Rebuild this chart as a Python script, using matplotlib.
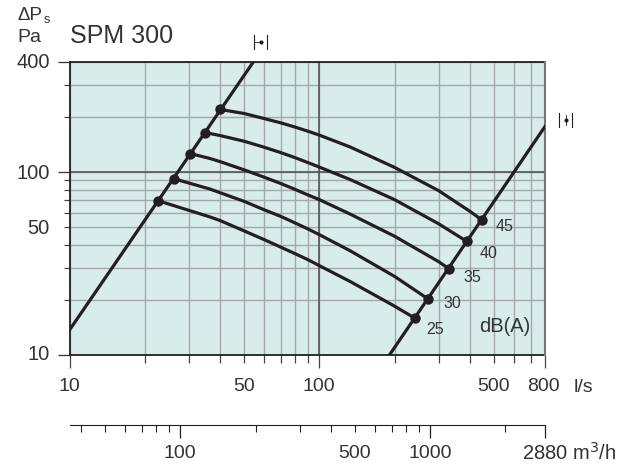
import matplotlib
matplotlib.use("Agg")
import matplotlib.pyplot as plt
from matplotlib.lines import Line2D

plt.rcParams['font.family'] = ['Liberation Sans', 'DejaVu Sans']

# l/s and Pa
fan_left_x = [10, 54.4]
fan_left_y = [13.7, 400]
fan_right_x = [190.8, 800]
fan_right_y = [10, 177.6]

curve_45_x = [40.1, 50, 60, 70, 80, 90, 100, 133, 200, 300, 400, 445.8]
curve_45_y = [220, 209.2, 196.4, 186, 176.2, 167.4, 159.3, 137.1, 106.1, 79.2, 61.1, 54.9]
curve_40_x = [34.9, 40, 50, 60, 70, 80, 90, 100, 133, 200, 300, 389]
curve_40_y = [164.6, 158.5, 147.5, 136.9, 127.9, 119.9, 112.7, 106.5, 91, 70.7, 52.2, 41.8]
curve_35_x = [30.4, 36.6, 40, 50, 60, 70, 80, 90, 100, 133, 200, 300, 329]
curve_35_y = [126.3, 118.6, 114.2, 102.9, 93.9, 86.7, 80.4, 75, 70.7, 58.9, 44.6, 32.4, 29.7]
curve_30_x = [26.1, 36.6, 40, 50, 60, 70, 80, 90, 100, 133, 200, 271.6]
curve_30_y = [92.1, 80.7, 77.2, 69.2, 62.3, 57.3, 52.7, 48.9, 45.5, 37.1, 26.9, 20.3]
curve_25_x = [22.6, 36.6, 40, 50, 60, 70, 80, 90, 100, 133, 200, 241]
curve_25_y = [69.8, 56.8, 54.4, 47.7, 42.8, 38.9, 35.8, 33.2, 30.8, 25.2, 18.5, 15.9]

x_major = [10, 100, 800]
x_minor = [20, 30, 40, 50, 60, 70, 80, 90, 200, 300, 400, 500, 600, 700]
y_major = [10, 100, 400]
y_minor = [20, 30, 40, 50, 60, 70, 80, 90, 200, 300]
m3h_major = [100, 1000, 2880]
m3h_minor = [40, 50, 60, 70, 80, 90, 200, 300, 400, 500, 600, 700, 800, 900, 2000]

dark = '#231f20'
W, H = 636, 466

fig = plt.figure(figsize=(W / 100, H / 100), dpi=100)
ax = fig.add_axes([69.5 / W, 1 - 355 / H, 475.5 / W, 293 / H])
ax.set_facecolor('#d8ecea')
ax.set_xscale('log')
ax.set_yscale('log')
ax.set_xlim(10, 800)
ax.set_ylim(10, 400)

ax.set_xticks(x_major)
ax.set_xticks(x_minor, minor=True)
ax.set_yticks(y_major)
ax.set_yticks(y_minor, minor=True)
ax.set_xticklabels([])
ax.set_xticklabels([], minor=True)
ax.set_yticklabels([])
ax.set_yticklabels([], minor=True)
ax.grid(True, which='both', color='#a3a8a8', lw=1.0)
ax.set_axisbelow(True)
ax.tick_params(axis='x', which='major', length=9.4, width=0.9, color='#444444')
ax.tick_params(axis='x', which='minor', length=5.8, width=0.9, color='#444444')
ax.tick_params(axis='y', which='major', length=8.6, width=0.9, color='#333333')
ax.tick_params(axis='y', which='minor', length=4.5, width=0.9, color='#444444')

# the 100 lines are darker
ax.axvline(100, color='#555555', lw=1.2, zorder=1)
ax.axhline(100, color='#555555', lw=1.2, zorder=1)

for s in ['top', 'right']:
    ax.spines[s].set_visible(False)
ax.spines['left'].set_color(dark)
ax.spines['left'].set_linewidth(1.3)
ax.spines['bottom'].set_color(dark)
ax.spines['bottom'].set_linewidth(1.3)
ax.plot([10, 800], [400, 400], color=dark, lw=1.3, clip_on=False, zorder=3)
ax.plot([800, 800], [10, 400], color='#777777', lw=1.5, clip_on=False, zorder=3)

ax.plot(fan_left_x, fan_left_y, color=dark, lw=2.3, zorder=4)
ax.plot(fan_right_x, fan_right_y, color=dark, lw=2.3, zorder=4)

curves = [(curve_45_x, curve_45_y), (curve_40_x, curve_40_y), (curve_35_x, curve_35_y),
          (curve_30_x, curve_30_y), (curve_25_x, curve_25_y)]
for cx, cy in curves:
    ax.plot(cx, cy, color=dark, lw=2.3, zorder=4, solid_joinstyle='round')
    ax.plot([cx[0], cx[-1]], [cy[0], cy[-1]], 'o', color=dark, ms=7.5, mew=0, zorder=5)


def txt(px, py, s, size=14, ha='center', color='#333333'):
    fig.text(px / W, 1 - py / H, s, fontsize=size, ha=ha, va='center', color=color)


def seg(x0, y0, x1, y1, lw=0.8):
    fig.add_artist(Line2D([x0 / W, x1 / W], [1 - y0 / H, 1 - y1 / H], color=dark, lw=lw))


for px, py, s in [(504.5, 227, '45'), (488.7, 253, '40'), (472, 278, '35'), (452, 304, '30'), (434.7, 330, '25')]:
    txt(px, py, s, 11.5)
txt(505, 327, 'dB(A)', 14.5)

txt(17, 15, '\u0394P', 13.5, ha='left')
txt(44, 20, 's', 9, ha='left')
txt(17, 38, 'Pa', 14, ha='left')
txt(122, 36, 'SPM 300', 18)
txt(50, 63, '400', 14.5, ha='right')
txt(50, 173, '100', 14.5, ha='right')
txt(50, 228, '50', 14.5, ha='right')
txt(50, 355, '10', 14.5, ha='right')

for px, s in [(69.5, '10'), (244, '50'), (318.5, '100'), (494, '500'), (543, '800')]:
    txt(px, 386.5, s, 14)
txt(583.5, 387, 'l/s', 14)

# the two small width marks beside the fan lines
seg(254, 35, 254, 49)
seg(267, 35, 267, 49)
seg(254, 42, 260, 42, 0.6)
fig.add_artist(Line2D([260.5 / W], [1 - 42 / H], marker='o', ms=3, mew=0, color=dark))
seg(559, 113, 559, 127)
seg(572, 113, 572, 127)
seg(565.5, 115, 565.5, 125, 0.6)
fig.add_artist(Line2D([565.5 / W], [1 - 120 / H], marker='o', ms=3, mew=0, color=dark))

# second flow axis below
ax2 = fig.add_axes([69.5 / W, 1 - 425 / H, 475.5 / W, 0.001])
ax2.patch.set_visible(False)
ax2.set_xscale('log')
ax2.set_xlim(36, 2880)
ax2.set_yticks([])
ax2.set_xticks(m3h_major)
ax2.set_xticks(m3h_minor, minor=True)
ax2.set_xticklabels([])
ax2.set_xticklabels([], minor=True)
ax2.tick_params(axis='x', which='major', length=9.4, width=0.9, color=dark)
ax2.tick_params(axis='x', which='minor', length=5, width=0.8, color=dark)
for s in ['top', 'left', 'right']:
    ax2.spines[s].set_visible(False)
ax2.spines['bottom'].set_color(dark)

for px, s in [(180, '100'), (355, '500'), (430, '1000')]:
    txt(px, 453, s, 14)
txt(569.5, 453, '2880 m$^{3}$/h', 14.5)

fig.savefig('out.png', dpi=100)
